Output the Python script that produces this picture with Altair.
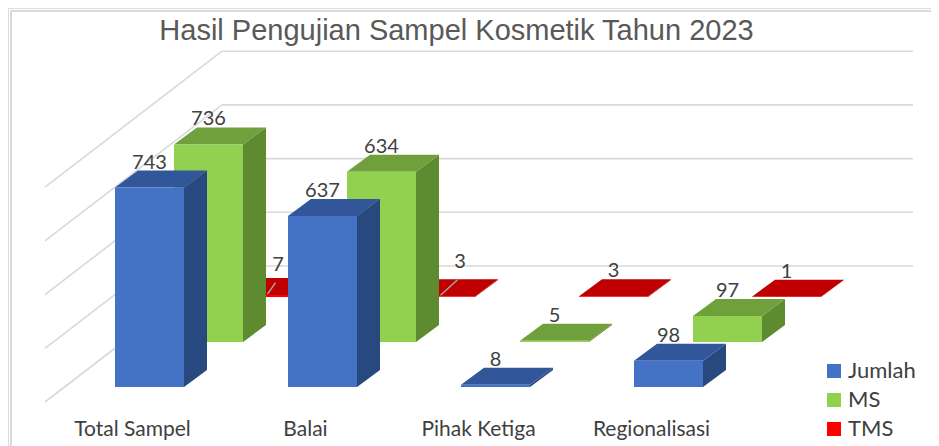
import altair as alt
import pandas as pd

# ---------------- data ----------------
categories = ["Total Sampel", "Balai", "Pihak Ketiga", "Regionalisasi"]
series_names = ["Jumlah", "MS", "TMS"]
jumlah = [743, 637, 8, 98]
ms = [736, 634, 5, 97]
tms = [7, 3, 3, 1]
grid_values = [0, 200, 400, 600, 800]
title_text = "Hasil Pengujian Sampel Kosmetik Tahun 2023"

# ---------------- layout / style (pixels) ----------------
W, H = 923, 438
CAT_STEP = 173          # px between categories
BAR_W = 69              # front face width
DEPTH_X, DEPTH_Y = 23, 17   # oblique depth of one bar
ROW_X, ROW_Y = 59, 45       # shift between series rows
PX_PER_UNIT = 0.2685
ORIGIN_X = 107          # view px of first front bar left edge
ORIGIN_Y = 379          # view px of front-row baseline
FLOOR_FRONT_X, WALL_X0, WALL_X1 = 37, 214, 905
FLOOR_FRONT_DY, WALL_DY = -15, 121
CAT_LABEL_SHIFT, CAT_LABEL_DY = -17, -49
# data labels that were moved aside (with a leader line), in px (right, up)
LABEL_NUDGE = {("TMS", 0): (10.5, 5), ("TMS", 1): (19.5, 9)}

front_col = {"Jumlah": "#4472C4", "MS": "#92D050", "TMS": "#FF0000"}
top_col = {"Jumlah": "#31569A", "MS": "#70A03C", "TMS": "#C00000"}
side_col = {"Jumlah": "#284880", "MS": "#5E8B30", "TMS": "#A00000"}
TEXT = "#404040"
GRID = "#D9D9D9"
FONT = "Lato"


def du(px):
    return px / CAT_STEP


def dv(px):
    return px / PX_PER_UNIT


x_scale = alt.Scale(domain=[-ORIGIN_X / CAT_STEP, (W - ORIGIN_X) / CAT_STEP], nice=False, zero=False)
y_scale = alt.Scale(domain=[(ORIGIN_Y - H) / PX_PER_UNIT, ORIGIN_Y / PX_PER_UNIT], nice=False, zero=False)


def ux(view_px):
    return (view_px - ORIGIN_X) / CAT_STEP


values = {"Jumlah": jumlah, "MS": ms, "TMS": tms}
front, top, side, labels, leaders = [], [], [], [], []
for r, s in enumerate(series_names):
    for i, c in enumerate(categories):
        v = values[s][i]
        x0 = i + du(r * ROW_X)
        x1 = x0 + du(BAR_W)
        y0 = dv(r * ROW_Y)
        y1 = y0 + v
        bid = f"{s}-{i}"
        front.append(dict(series=s, bar=bid, x=x0, x2=x1, y=y0, y2=y1))
        top.append(dict(series=s, bar=bid, y=y1, x=x0, x2=x1))
        top.append(dict(series=s, bar=bid, y=y1 + dv(DEPTH_Y), x=x0 + du(DEPTH_X), x2=x1 + du(DEPTH_X)))
        side.append(dict(series=s, bar=bid, x=x1, y=y0, y2=y1))
        side.append(dict(series=s, bar=bid, x=x1 + du(DEPTH_X), y=y0 + dv(DEPTH_Y), y2=y1 + dv(DEPTH_Y)))
        lx = (x0 + x1) / 2
        ly = y1 + dv(DEPTH_Y + 2)
        if (s, i) in LABEL_NUDGE:
            ndx, ndy = LABEL_NUDGE[(s, i)]
            lx += du(ndx)
            ly += dv(ndy)
            leaders.append(dict(x=(x0 + x1) / 2, y=y1 + dv(1), x2=lx - du(2.5), y2=ly - dv(11.5)))
        labels.append(dict(series=s, label=str(v), x=lx, y=ly))

front_df = pd.DataFrame(front)
top_df = pd.DataFrame(top)
side_df = pd.DataFrame(side)
label_df = pd.DataFrame(labels)
leader_df = pd.DataFrame(leaders)

wall_df = pd.DataFrame([
    dict(x=ux(WALL_X0), x2=ux(WALL_X1), y=dv(WALL_DY) + g) for g in grid_values
])
diag_df = pd.DataFrame([
    dict(x=ux(FLOOR_FRONT_X), x2=ux(WALL_X0), y=dv(FLOOR_FRONT_DY) + g, y2=dv(WALL_DY) + g)
    for g in grid_values
])
cat_df = pd.DataFrame([
    dict(cat=c, x=i + du(BAR_W / 2 + CAT_LABEL_SHIFT), y=dv(CAT_LABEL_DY))
    for i, c in enumerate(categories)
])


def X(f="x"):
    return alt.X(f"{f}:Q", scale=x_scale, axis=None)


def Y(f="y"):
    return alt.Y(f"{f}:Q", scale=y_scale, axis=None)


layers = []

# chart-area border (top and left edges)
one = alt.Data(values=[{}])
layers.append(alt.Chart(one).mark_rule(color=GRID, strokeWidth=2).encode(
    x=alt.value(3), x2=alt.value(W), y=alt.value(3)))
layers.append(alt.Chart(one).mark_rule(color=GRID, strokeWidth=2).encode(
    x=alt.value(3), y=alt.value(3), y2=alt.value(H)))

# gridlines: back wall and side wall
layers.append(alt.Chart(wall_df).mark_rule(color=GRID, strokeWidth=1.6).encode(
    x=X(), x2="x2:Q", y=Y()))
layers.append(alt.Chart(diag_df).mark_rule(color=GRID, strokeWidth=1.6).encode(
    x=X(), x2="x2:Q", y=Y(), y2="y2:Q"))

# bars, back row first
for s in reversed(series_names):
    layers.append(alt.Chart(side_df).transform_filter(alt.datum.series == s)
                  .mark_area(orient="vertical", color=side_col[s])
                  .encode(x=X(), y=Y(), y2="y2:Q", detail="bar:N"))
    layers.append(alt.Chart(top_df).transform_filter(alt.datum.series == s)
                  .mark_area(orient="horizontal", color=top_col[s])
                  .encode(y=Y(), x=X(), x2="x2:Q", detail="bar:N"))
    layers.append(alt.Chart(front_df).transform_filter(alt.datum.series == s)
                  .mark_rect()
                  .encode(x=X(), x2="x2:Q", y=Y(), y2="y2:Q",
                          color=alt.Color("series:N",
                                          scale=alt.Scale(domain=series_names,
                                                          range=[front_col[n] for n in series_names]),
                                          legend=alt.Legend(
                                              title=None, orient="none", legendX=815, legendY=352,
                                              symbolType="square", symbolSize=196,
                                              symbolStrokeWidth=0, labelFont=FONT,
                                              labelFontSize=22, labelColor=TEXT,
                                              labelOffset=3, rowPadding=7, padding=0))))

# leader lines of moved labels
layers.append(alt.Chart(leader_df).mark_rule(color="#A6A6A6", strokeWidth=1.5).encode(
    x=X(), x2="x2:Q", y=Y(), y2="y2:Q"))

# data labels
layers.append(alt.Chart(label_df).mark_text(
    font=FONT, fontSize=20, color=TEXT, align="center", baseline="alphabetic").encode(
    x=X(), y=Y(), text="label:N"))

# category labels
layers.append(alt.Chart(cat_df).mark_text(
    font=FONT, fontSize=21, color=TEXT, align="center", baseline="alphabetic").encode(
    x=X(), y=Y(), text="cat:N"))

chart = alt.layer(*layers).properties(
    width=W, height=H,
    autosize=alt.AutoSizeParams(type="none"),
    padding=0,
    title=alt.TitleParams(title_text, font="Liberation Sans", fontSize=29, fontWeight="normal",
                          color="#595959", anchor="middle", dx=-13, dy=42),
).configure_view(stroke=None).configure(background="white")

chart.save("out.html", embed_options={"renderer": "svg", "actions": False})
